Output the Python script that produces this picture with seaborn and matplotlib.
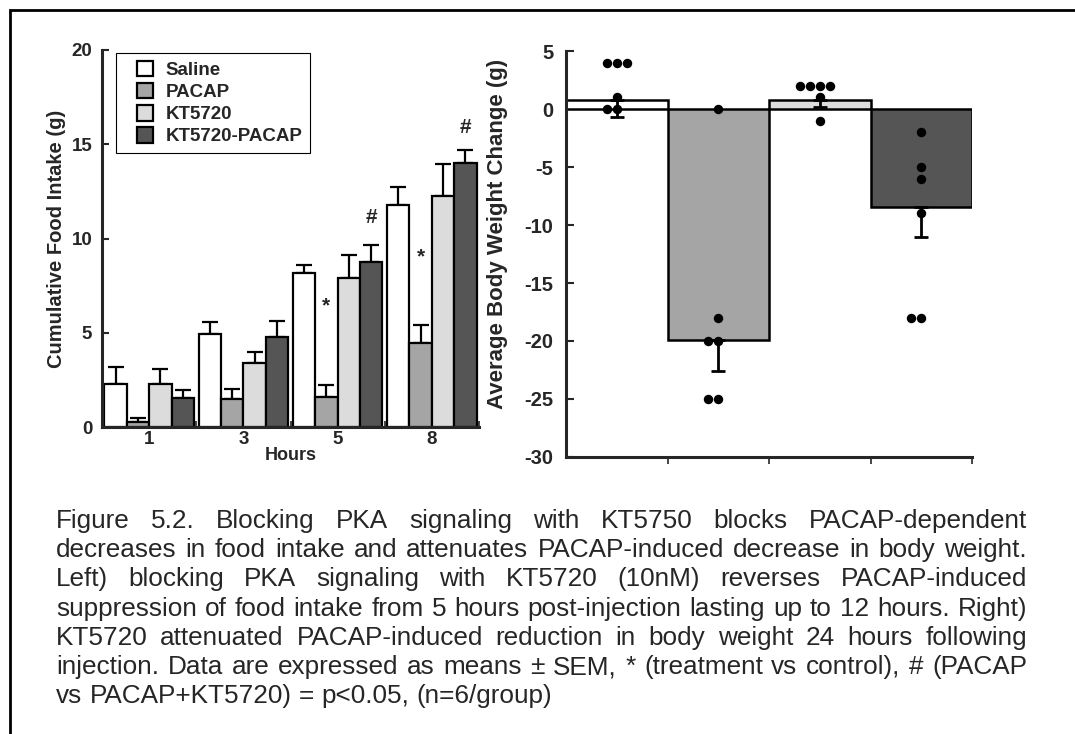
import numpy as np
import pandas as pd
import matplotlib
matplotlib.use("Agg")
import matplotlib.pyplot as plt
from matplotlib.patches import Rectangle
from matplotlib.container import BarContainer
from matplotlib.legend_handler import HandlerPatch
import seaborn as sns

# ---------------- data ----------------
hours = ["1", "3", "5", "8"]
treatments = ["Saline", "PACAP", "KT5720", "KT5720-PACAP"]
colors = ["#ffffff", "#a5a5a5", "#dcdcdc", "#555555"]

intake_saline = [2.30, 4.96, 8.19, 11.80]
intake_pacap = [0.27, 1.47, 1.59, 4.48]
intake_kt = [2.27, 3.42, 7.88, 12.25]
intake_ktpacap = [1.54, 4.78, 8.76, 13.98]

sem_saline = [0.89, 0.62, 0.39, 0.94]
sem_pacap = [0.23, 0.57, 0.66, 0.92]
sem_kt = [0.81, 0.56, 1.27, 1.68]
sem_ktpacap = [0.44, 0.85, 0.89, 0.71]

# significance marks: (hour index, treatment, symbol, y)
sig_hour = [2, 2, 3, 3]
sig_treat = ["PACAP", "KT5720-PACAP", "PACAP", "KT5720-PACAP"]
sig_symbol = ["*", "#", "*", "#"]
sig_y = [6.4, 11.1, 9.0, 15.9]

bw_mean = [0.8, -19.9, 0.8, -8.45]
bw_sem = [1.5, 2.7, 0.63, 2.6]
bw_saline = [4, 4, 4, 1, 0, 0]
bw_pacap = [0, -18, -20, -20, -25, -25]
bw_kt = [2, 2, 2, 2, 1, -1]
bw_ktpacap = [-2, -5, -6, -9, -18, -18]

caption_lines = [
    "Figure 5.2. Blocking PKA signaling with KT5750 blocks PACAP-dependent",
    "decreases in food intake and attenuates PACAP-induced decrease in body weight.",
    "Left) blocking PKA signaling with KT5720 (10nM) reverses PACAP-induced",
    "suppression of food intake from 5 hours post-injection lasting up to 12 hours. Right)",
    "KT5720 attenuated PACAP-induced reduction in body weight 24 hours following",
    "injection. Data are expressed as means \u00b1 SEM, * (treatment vs control), # (PACAP",
    "vs PACAP+KT5720) = p<0.05, (n=6/group)",
]

# ---------------- style ----------------
sns.set_style("ticks")
plt.rcParams["font.family"] = ["Liberation Sans", "DejaVu Sans"]
plt.rcParams["font.weight"] = "bold"
plt.rcParams["axes.unicode_minus"] = False

W, H = 1075, 734
fig = plt.figure(figsize=(W / 100, H / 100), dpi=100)

def px_axes(x0, y0, x1, y1):
    return fig.add_axes([x0 / W, 1 - y1 / H, (x1 - x0) / W, (y1 - y0) / H])


class SquareHandler(HandlerPatch):
    """Legend key drawn as a square at the right end of the handle box."""
    def create_artists(self, legend, orig_handle, xdescent, ydescent,
                       width, height, fontsize, trans):
        side = height
        p = Rectangle((width - side - xdescent, -ydescent), side, side,
                      facecolor=orig_handle.get_facecolor(),
                      edgecolor="black", linewidth=1.6, transform=trans)
        return [p]

# ---------------- left panel ----------------
ax1 = px_axes(102, 50, 479, 427)
intake = [intake_saline, intake_pacap, intake_kt, intake_ktpacap]
sems = [sem_saline, sem_pacap, sem_kt, sem_ktpacap]
df1 = pd.DataFrame({
    "hour": [h for t in treatments for h in hours],
    "treatment": [t for t in treatments for h in hours],
    "value": [v for vals in intake for v in vals],
})
sns.barplot(data=df1, x="hour", y="value", hue="treatment", order=hours,
            hue_order=treatments, palette=colors, edgecolor="black",
            linewidth=1.6, width=0.95, errorbar=None, ax=ax1, zorder=2)

bar_conts = [c for c in list(ax1.containers) if isinstance(c, BarContainer)]
centers = {}
for ti, cont in enumerate(bar_conts):
    xs = [p.get_x() + p.get_width() / 2 for p in cont]
    hs = [p.get_height() for p in cont]
    for hi, x in enumerate(xs):
        centers[(hi, treatments[ti])] = x
    ax1.errorbar(xs, hs, yerr=[np.zeros(len(hs)), sems[ti]], fmt="none",
                 ecolor="black", elinewidth=1.6, capsize=5.5, capthick=1.6,
                 zorder=1)

for hi, tr, sym, y in zip(sig_hour, sig_treat, sig_symbol, sig_y):
    ax1.text(centers[(hi, tr)], y, sym, ha="center", va="center",
             fontsize=15, fontweight="bold")

ax1.set_xlim(-0.5, 3.5)
ax1.set_ylim(0, 20)
ax1.set_yticks([0, 5, 10, 15, 20])
ax1.set_xticks(range(4))
ax1.set_xticklabels(hours)
ax1.set_xticks([0.5, 1.5, 2.5, 3.5], minor=True)
ax1.tick_params(axis="x", which="major", length=0, pad=3, labelsize=13.5)
ax1.tick_params(axis="x", which="minor", direction="in", length=4, width=1.2)
ax1.tick_params(axis="y", direction="in", length=5, width=1.5, pad=7,
                labelsize=13.5)
for lab in ax1.get_xticklabels() + ax1.get_yticklabels():
    lab.set_fontweight("bold")
ax1.set_xlabel("Hours", fontsize=13, fontweight="bold", labelpad=-1)
ax1.set_ylabel("Cumulative Food Intake (g)", fontsize=14.5, fontweight="bold",
               labelpad=4)
sns.despine(ax=ax1)
for s in ["left", "bottom"]:
    ax1.spines[s].set_linewidth(2.2)

handles, labels = ax1.get_legend_handles_labels()
if ax1.get_legend() is not None:
    ax1.get_legend().remove()
leg = ax1.legend(handles, labels, loc="upper left",
                 bbox_to_anchor=(0.037, 0.992), borderaxespad=0,
                 fancybox=False, edgecolor="black", framealpha=1,
                 prop={"weight": "bold", "size": 13.5}, handlelength=1.55,
                 handleheight=0.92, handletextpad=0.7, labelspacing=0.2,
                 borderpad=0.4,
                 handler_map={Rectangle: SquareHandler()})
leg.get_frame().set_linewidth(0.8)

# ---------------- right panel ----------------
ax2 = px_axes(566, 51, 972, 457)
df2 = pd.DataFrame({"treatment": treatments, "value": bw_mean})
sns.barplot(data=df2, x="treatment", y="value", hue="treatment",
            order=treatments, hue_order=treatments, palette=colors,
            edgecolor="black", linewidth=1.8, width=1.0, errorbar=None,
            legend=False, ax=ax2, zorder=1)
ax2.errorbar(range(4), bw_mean, yerr=[bw_sem, np.zeros(4)], fmt="none",
             ecolor="black", elinewidth=2.0, capsize=5, capthick=2.0, zorder=3)
df3 = pd.DataFrame({
    "treatment": [t for t, vals in zip(treatments, [bw_saline, bw_pacap, bw_kt, bw_ktpacap]) for _ in vals],
    "value": bw_saline + bw_pacap + bw_kt + bw_ktpacap,
})
sns.swarmplot(data=df3, x="treatment", y="value", order=treatments,
              color="black", size=6.8, ax=ax2, zorder=4)
ax2.set_xlim(-0.5, 3.5)
ax2.set_ylim(-30, 5)
ax2.set_yticks([5, 0, -5, -10, -15, -20, -25, -30])
ax2.set_xticks([0.5, 1.5, 2.5, 3.5])
ax2.set_xticklabels([])
ax2.tick_params(axis="x", direction="out", length=5, width=1.2)
ax2.tick_params(axis="y", direction="in", length=6, width=1.5, pad=9,
                labelsize=14.5)
for lab in ax2.get_yticklabels():
    lab.set_fontweight("bold")
ax2.set_xlabel("")
ax2.set_ylabel("Average Body Weight Change (g)", fontsize=16,
               fontweight="bold")
ax2.yaxis.set_label_coords(-0.143, 0.549)
sns.despine(ax=ax2)
for s in ["left", "bottom"]:
    ax2.spines[s].set_linewidth(2.2)

# ---------------- figure border ----------------
fig.add_artist(Rectangle((10 / W, -0.2), 1.2, 1.2 - 10 / H, fill=False,
                         lw=2.0, edgecolor="black", transform=fig.transFigure))

# ---------------- caption (justified) ----------------
fig.canvas.draw()
renderer = fig.canvas.get_renderer()
cap_fs = 18.8
x_left, x_right = 56, 1027
y0, dy = 521, 29.2
t_sp = fig.text(0, 0, "a a", fontsize=cap_fs, fontweight="normal")
t_ns = fig.text(0, 0, "aa", fontsize=cap_fs, fontweight="normal")
space_w = t_sp.get_window_extent(renderer).width - t_ns.get_window_extent(renderer).width
t_sp.remove(); t_ns.remove()
for i, line in enumerate(caption_lines):
    words = line.split(" ")
    ypix = y0 + i * dy
    texts = [fig.text(0, 1 - ypix / H, w, fontsize=cap_fs, fontweight="normal",
                      va="center", ha="left") for w in words]
    widths = [t.get_window_extent(renderer).width for t in texts]
    if i < len(caption_lines) - 1 and len(words) > 1:
        gap = (x_right - x_left - sum(widths)) / (len(words) - 1)
    else:
        gap = space_w
    x = x_left
    for t, w in zip(texts, widths):
        t.set_x(x / W)
        x += w + gap

fig.savefig("out.png", dpi=100)
